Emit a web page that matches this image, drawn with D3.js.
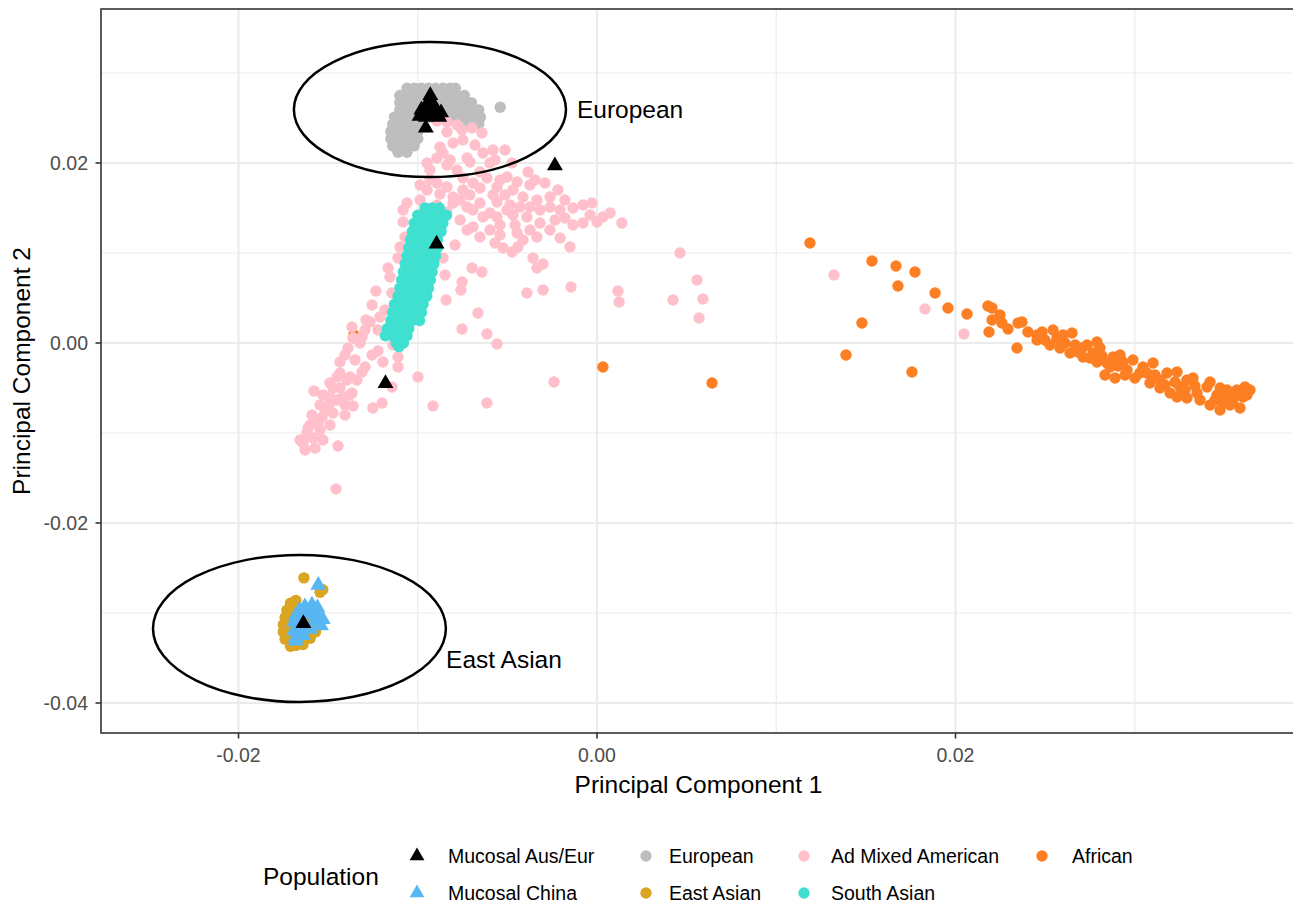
<!DOCTYPE html>
<html>
<head>
<meta charset="utf-8">
<script src="https://cdn.jsdelivr.net/npm/d3@7"></script>
<style>
  body { margin: 0; background: #fff; }
  svg { font-family: "Liberation Sans", Arial, Helvetica, sans-serif; }
</style>
</head>
<body>
<svg width="1293" height="909"></svg>
<script>
// PC1 / PC2 scores, stored in units of 1e-3
var european = [
  [-10.6,28.3],[-10.2,28.3],[-9.8,28.3],[-9.4,28.3],[-9.0,28.3],[-8.6,28.3],[-8.2,28.3],[-7.9,28.3],
  [-11.0,27.5],[-10.6,27.5],[-10.2,27.5],[-9.8,27.5],[-9.4,27.5],[-9.0,27.5],[-8.6,27.5],[-8.2,27.5],[-7.8,27.5],[-7.4,27.5],
  [-11.0,26.7],[-10.6,26.7],[-10.2,26.7],[-9.8,26.7],[-9.4,26.7],[-9.0,26.7],[-8.6,26.7],[-8.2,26.7],[-7.8,26.7],[-7.4,26.7],[-7.0,26.7],
  [-11.0,25.9],[-10.6,25.9],[-10.2,25.9],[-9.8,25.9],[-9.4,25.9],[-9.0,25.9],[-8.6,25.9],[-8.2,25.9],[-7.8,25.9],[-7.4,25.9],[-7.0,25.9],[-6.6,25.9],
  [-11.3,25.1],[-10.9,25.1],[-10.5,25.1],[-10.1,25.1],[-9.7,25.1],[-9.3,25.1],[-8.9,25.1],[-8.5,25.1],[-8.1,25.1],[-7.7,25.1],[-7.3,25.1],[-6.9,25.1],[-6.5,25.1],
  [-11.4,24.3],[-11.0,24.3],[-10.6,24.3],[-10.2,24.3],[-9.9,24.3],[-7.2,24.3],[-6.6,24.3],
  [-11.5,23.5],[-11.1,23.5],[-10.7,23.5],[-10.3,23.5],[-10.0,23.5],
  [-11.5,22.7],[-11.1,22.7],[-10.7,22.7],[-10.3,22.7],[-10.0,22.7],
  [-11.4,21.9],[-11.0,21.9],[-10.6,21.9],[-10.2,21.9],
  [-11.1,21.2],[-10.6,21.2],
  [-5.4,26.2]
];

var admixed = [
  [-8.93,24.67],[-8.37,24.56],[-7.81,24.22],[-6.97,23.89],[-6.42,23.33],[-8.03,22.22],[-7.48,22.56],[-8.76,21.78],
  [-8.59,21.11],[-8.93,20.56],[-9.48,20.0],[-9.32,19.22],[-7.25,20.56],[-6.36,21.11],[-5.80,21.44],[-5.13,21.44],
  [-7.09,20.11],[-5.97,20.0],[-7.81,19.22],[-6.53,19.0],[-5.02,18.44],[-4.46,17.89],[-3.85,19.0],[-8.37,17.33],
  [-8.93,17.78],[-7.48,17.0],[-6.53,17.22],[-5.58,17.33],[-4.69,17.0],[-4.13,16.22],[-9.48,17.0],[-8.76,16.56],
  [-8.03,16.22],[-7.09,16.44],[-6.14,18.33],[-5.41,18.11],[-3.35,15.89],[-2.62,16.22],[-2.18,17.0],[-9.87,15.89],
  [-10.60,15.56],[-10.82,14.78],[-10.82,13.44],[-10.71,11.78],[-10.99,10.67],[-8.03,15.56],[-7.25,15.11],[-6.53,15.56],
  [-5.58,15.67],[-4.85,15.33],[-6.92,14.78],[-5.97,14.44],[-5.02,14.78],[-3.91,14.0],[-2.62,15.11],[-2.06,14.78],
  [-1.34,15.0],[-0.78,15.33],[-0.28,15.56],[-3.18,13.33],[-2.34,13.67],[-1.34,13.11],[-0.78,13.33],[0.0,13.44],
  [0.33,14.0],[1.39,13.33],[-7.64,13.67],[-6.92,12.89],[-6.36,14.0],[-5.58,14.0],[-5.41,13.11],[-4.69,14.22],
  [-6.53,11.78],[-5.41,12.0],[-4.46,12.22],[-4.13,11.44],[-3.35,11.78],[-2.62,12.56],[-5.97,12.56],[-7.25,12.56],
  [-5.24,10.56],[-4.74,10.11],[-4.41,10.67],[-1.51,10.67],[-3.57,9.44],[-3.01,8.78],[-3.35,8.33],[-6.97,8.33],
  [-6.42,7.89],[-7.53,6.78],[-7.59,5.89],[-3.91,5.56],[-3.01,5.89],[-1.45,6.22],[1.17,5.78],[1.23,4.56],
  [4.24,4.78],[4.63,10.0],[5.58,7.0],[5.91,4.89],[5.69,2.78],[-6.64,3.33],[-7.53,1.56],[-6.14,1.0],
  [-5.58,-0.11],[-2.40,-4.33],[-6.14,-6.67],[-9.15,-7.0],[-9.99,-3.78],[-8.59,9.44],[-8.48,7.56],[-8.42,4.78],
  [-11.55,7.33],[-11.66,8.33],[-11.10,9.44],[-12.33,5.78],[-11.44,5.56],[-12.55,4.22],[-12.11,2.89],[-12.66,2.33],
  [-13.67,1.78],[-12.94,1.44],[-12.22,1.44],[-13.61,0.56],[-13.89,-0.56],[-13.11,0.67],[-13.22,0.0],[-12.22,-0.89],
  [-11.10,-1.56],[-11.10,-2.67],[-11.38,-0.22],[-14.34,-2.11],[-13.50,-1.89],[-12.94,-2.67],[-14.34,-3.33],[-13.78,-3.78],
  [-13.11,-3.22],[-14.50,-3.78],[-13.95,-4.11],[-13.39,-4.11],[-15.79,-5.33],[-14.34,-5.0],[-13.67,-5.56],[-14.90,-6.0],
  [-14.17,-6.0],[-14.73,-5.0],[-15.17,-7.44],[-14.73,-7.78],[-13.61,-7.0],[-15.34,-8.22],[-15.56,-8.89],[-14.50,-6.33],
  [-14.90,-6.67],[-16.18,-10.0],[-15.84,-10.56],[-16.40,-11.11],[-15.73,-11.67],[-15.29,-10.78],[-14.45,-11.44],[-16.12,-9.44],
  [-14.56,-16.22],[-12.50,-7.22],[-11.99,-6.67],[-11.44,-4.89],[13.22,7.56],[18.30,3.78],[20.47,1.0],
  [-8.37,19.78],[-7.48,18.33],[-6.92,17.78],[-5.80,16.44],[-5.13,16.44],[-4.30,15.11],[-8.93,15.33],[-8.37,14.56],
  [-3.74,17.56],[-3.18,14.78],[-1.79,15.89],[-14.06,-1.33],[-14.90,-4.44],[-15.29,-5.78],[-14.06,-6.89],[-15.90,-8.0],
  [-16.57,-10.78],[-15.45,-9.67],[-14.90,-9.11],
  [-8.20,20.33],[-6.81,22.0],[-5.69,20.33],[-4.74,20.0],[-3.46,18.11],[-2.90,17.78],[-3.74,15.11],[-1.79,13.89],
  [-0.39,14.22],[0.73,14.44],[-4.57,13.11],[-3.74,12.56],[-2.06,11.67],[-7.92,10.89],[-5.69,11.11],[-9.32,18.11],
  [-9.87,17.56],[-7.64,15.89],[-8.37,23.44],[-7.53,23.67],[-12.55,-1.33],[-11.94,-2.11],[-13.78,-5.78],[-15.45,-6.89],
  [-14.06,-8.0],[-16.01,-9.11],[-16.29,-11.89],[-12.89,2.56],[-11.83,3.67]
];

var african = [
  [11.88,11.11],[15.34,9.11],[16.68,8.56],[17.74,7.89],[16.79,6.33],[18.86,5.56],[19.58,3.89],[20.64,3.22],
  [14.78,2.22],[13.89,-1.33],[17.57,-3.22],[0.33,-2.67],[6.42,-4.44],[-13.56,0.9],
  [21.81,4.11],[22.04,3.89],[22.04,2.56],[22.48,3.11],[22.59,2.22],[21.87,1.22],[22.93,1.56],[23.49,2.22],
  [23.71,2.33],[23.43,-0.56],[24.04,1.22],[24.55,0.89],[24.83,1.22],[24.55,0.33],[25.44,1.44],[25.66,0.56],
  [26.0,0.89],[26.5,1.11],[25.83,-0.56],[26.39,-1.11],[26.67,-0.22],[27.06,-0.56],[27.34,-0.22],[27.89,0.11],
  [27.11,-1.56],[27.67,-1.11],[28.06,-0.56],[27.89,-2.11],[28.45,-2.22],[28.79,-1.56],[29.18,-1.33],[28.34,-3.56],
  [28.90,-3.89],[28.62,-2.67],[29.34,-2.11],[29.90,-1.89],[29.57,-3.0],[30.01,-3.89],[30.46,-2.67],[31.02,-2.22],
  [30.68,-3.33],[30.85,-4.44],[31.41,-4.11],[31.80,-3.33],[32.36,-3.22],[31.41,-5.0],[31.97,-5.56],[32.52,-4.89],
  [32.91,-4.11],[33.25,-3.89],[32.36,-6.0],[32.91,-6.11],[33.47,-5.56],[34.03,-4.89],[34.20,-4.33],[34.20,-6.89],
  [34.76,-7.44],[34.92,-6.56],[34.59,-5.78],[35.15,-5.22],[35.48,-6.33],[35.87,-7.22],[36.04,-6.0],[36.15,-4.89],
  [35.70,-5.22],[35.31,-6.89],[36.26,-5.78],
  [24.99,0.33],[25.27,-0.22],[26.11,0.0],[26.83,-1.0],[27.5,-1.67],[28.17,-1.44],[29.07,-2.56],[29.46,-3.56],
  [30.29,-3.33],[31.13,-3.56],[31.69,-4.67],[32.25,-4.33],[32.80,-5.22],[33.36,-4.78],[33.64,-6.33],[34.48,-6.33],
  [35.03,-6.0],[35.59,-5.89],[36.43,-5.22],[34.76,-5.0]
];

var eastAsian = [
  [-16.35,-26.1],[-15.45,-27.7],[-15.3,-27.4],
  [-17.1,-28.9],[-16.8,-28.6],
  [-17.3,-29.7],[-16.9,-29.6],[-16.5,-29.8],
  [-17.4,-30.5],[-17.1,-30.4],[-16.7,-30.6],[-16.3,-30.3],[-15.9,-30.5],
  [-17.5,-31.3],[-17.2,-31.2],[-16.8,-31.4],[-16.4,-31.1],[-16.0,-31.3],[-15.6,-31.4],
  [-17.5,-32.1],[-17.2,-32.0],[-16.9,-32.2],[-16.5,-32.0],[-16.1,-32.2],[-15.7,-32.1],
  [-17.4,-32.9],[-17.1,-33.0],[-16.8,-32.8],[-16.4,-33.0],[-16.0,-32.8],
  [-17.1,-33.7],[-16.8,-33.6],[-16.4,-33.5]
];

var southAsian = [
  [-9.6,15.0],[-9.2,15.0],[-8.8,15.0],
  [-10.0,14.2],[-9.6,14.2],[-9.2,14.2],[-8.8,14.2],[-8.4,14.2],
  [-10.2,13.3],[-9.8,13.3],[-9.4,13.3],[-9.0,13.3],[-8.6,13.3],
  [-10.3,12.4],[-9.9,12.4],[-9.5,12.4],[-9.1,12.4],[-8.7,12.4],
  [-10.4,11.5],[-10.0,11.5],[-9.6,11.5],[-9.2,11.5],[-8.9,11.5],
  [-10.5,10.6],[-10.1,10.6],[-9.7,10.6],[-9.3,10.6],[-8.9,10.6],
  [-10.6,9.7],[-10.2,9.7],[-9.8,9.7],[-9.4,9.7],[-9.0,9.7],
  [-10.7,8.8],[-10.3,8.8],[-9.9,8.8],[-9.5,8.8],[-9.1,8.8],
  [-10.8,7.9],[-10.4,7.9],[-10.0,7.9],[-9.6,7.9],[-9.2,7.9],
  [-10.9,7.0],[-10.5,7.0],[-10.1,7.0],[-9.7,7.0],[-9.3,7.0],
  [-11.0,6.1],[-10.6,6.1],[-10.2,6.1],[-9.8,6.1],[-9.4,6.1],
  [-11.1,5.2],[-10.7,5.2],[-10.3,5.2],[-9.9,5.2],[-9.5,5.2],
  [-11.3,4.3],[-10.9,4.3],[-10.5,4.3],[-10.1,4.3],[-9.7,4.3],
  [-11.4,3.4],[-11.0,3.4],[-10.6,3.4],[-10.2,3.4],[-9.8,3.4],
  [-11.5,2.5],[-11.1,2.5],[-10.7,2.5],[-10.3,2.5],[-9.9,2.5],
  [-11.7,1.6],[-11.3,1.6],[-10.9,1.6],[-10.5,1.6],
  [-11.8,0.8],[-11.4,0.8],[-11.0,0.8],[-10.6,0.8],
  [-11.2,0.0],[-10.8,0.0],[-11.05,-0.4]
];

var mucosalChina = [
  [-15.55,-26.9],
  [-16.3,-29.3],[-15.9,-29.1],[-15.6,-29.4],[-16.6,-29.7],
  [-16.8,-30.3],[-16.4,-30.2],[-16.0,-30.1],[-15.6,-30.3],[-15.3,-30.7],
  [-16.9,-31.0],[-16.5,-31.3],[-15.8,-31.0],[-15.4,-31.4],
  [-16.9,-32.0],[-16.5,-31.9],[-16.0,-31.8],
  [-16.8,-32.7],[-16.4,-32.5],[-16.8,-33.1]
];

var mucosalAusEur = [
  [-9.3,27.5],[-9.45,26.7],[-9.15,26.6],[-9.8,25.9],[-9.4,25.8],[-9.0,25.9],[-8.7,25.6],
  [-9.9,25.2],[-9.55,25.1],[-9.15,25.2],[-8.8,25.1],[-9.55,23.9],
  [-2.35,19.7],[-8.95,11.0],[-11.8,-4.5],[-16.38,-31.15]
];

// ellipses and their labels: centre, radii (1e-3) and label anchor
var ellipses = [
  {label: "European", cx: -9.32, cy: 25.94, rx: 7.59, ry: 7.5, lx: -1.12, ly: 25.9},
  {label: "East Asian", cx: -16.6, cy: -31.72, rx: 8.17, ry: 8.17, lx: -8.42, ly: -35.2}
];

var xMajor = [-0.02, 0, 0.02], xMinor = [-0.01, 0.01, 0.03];
var yMajor = [-0.04, -0.02, 0, 0.02], yMinor = [-0.03, -0.01, 0.01, 0.03];

// draw order and legend layout
var groups = [
  {name: "African", data: african, color: "#FD7F23", shape: "circle", col: 3, row: 0},
  {name: "European", data: european, color: "#BEBEBE", shape: "circle", col: 1, row: 0},
  {name: "Ad Mixed American", data: admixed, color: "#FFC0CB", shape: "circle", col: 2, row: 0},
  {name: "East Asian", data: eastAsian, color: "#DAA520", shape: "circle", col: 1, row: 1},
  {name: "South Asian", data: southAsian, color: "#40E0D0", shape: "circle", col: 2, row: 1},
  {name: "Mucosal China", data: mucosalChina, color: "#58B6F2", shape: "triangle", col: 0, row: 1},
  {name: "Mucosal Aus/Eur", data: mucosalAusEur, color: "#000000", shape: "triangle", col: 0, row: 0}
];

var k = 1e-3;
var svg = d3.select("svg");

var pLeft = 101, pRight = 1296, pTop = 9, pBottom = 733;
var x = d3.scaleLinear().domain([-0.027671, 0.038996]).range([pLeft, pRight]);
var y = d3.scaleLinear().domain([-0.043333, 0.037111]).range([pBottom, pTop]);

svg.append("defs").append("clipPath").attr("id", "panel")
  .append("rect").attr("x", pLeft).attr("y", pTop)
  .attr("width", pRight - pLeft).attr("height", pBottom - pTop);

// grid
var grid = svg.append("g").attr("clip-path", "url(#panel)");
grid.append("g").selectAll("line").data(xMinor).join("line")
  .attr("x1", d => x(d)).attr("x2", d => x(d)).attr("y1", pTop).attr("y2", pBottom)
  .attr("stroke", "#EBEBEB").attr("stroke-width", 1.2);
grid.append("g").selectAll("line").data(yMinor).join("line")
  .attr("y1", d => y(d)).attr("y2", d => y(d)).attr("x1", pLeft).attr("x2", pRight)
  .attr("stroke", "#EBEBEB").attr("stroke-width", 1.2);
grid.append("g").selectAll("line").data(xMajor).join("line")
  .attr("x1", d => x(d)).attr("x2", d => x(d)).attr("y1", pTop).attr("y2", pBottom)
  .attr("stroke", "#EBEBEB").attr("stroke-width", 2.2);
grid.append("g").selectAll("line").data(yMajor).join("line")
  .attr("y1", d => y(d)).attr("y2", d => y(d)).attr("x1", pLeft).attr("x2", pRight)
  .attr("stroke", "#EBEBEB").attr("stroke-width", 2.2);

// points
var tri = d3.symbol().type(d3.symbolTriangle).size(110);
var plot = svg.append("g").attr("clip-path", "url(#panel)");
groups.forEach(function(g) {
  if (g.shape == "circle") {
    plot.append("g").selectAll("circle").data(g.data).join("circle")
      .attr("cx", d => x(d[0] * k)).attr("cy", d => y(d[1] * k))
      .attr("r", 5.7).attr("fill", g.color);
  } else {
    plot.append("g").selectAll("path").data(g.data).join("path")
      .attr("d", tri)
      .attr("transform", d => `translate(${x(d[0] * k)},${y(d[1] * k)})`)
      .attr("fill", g.color);
  }
});

// ellipses + labels
plot.append("g").selectAll("ellipse").data(ellipses).join("ellipse")
  .attr("cx", d => x(d.cx * k)).attr("cy", d => y(d.cy * k))
  .attr("rx", d => x((d.cx + d.rx) * k) - x(d.cx * k))
  .attr("ry", d => y(d.cy * k) - y((d.cy + d.ry) * k))
  .attr("fill", "none").attr("stroke", "#000").attr("stroke-width", 2.5);
svg.append("g").selectAll("text").data(ellipses).join("text")
  .attr("x", d => x(d.lx * k)).attr("y", d => y(d.ly * k))
  .attr("dy", "0.35em").attr("font-size", "24.5px").attr("fill", "#000")
  .text(d => d.label);

// panel border
svg.append("rect").attr("x", pLeft).attr("y", pTop)
  .attr("width", pRight - pLeft).attr("height", pBottom - pTop)
  .attr("fill", "none").attr("stroke", "#333333").attr("stroke-width", 1.6);

// axes
var fmt = d => d.toFixed(2);
svg.append("g").selectAll("line").data(xMajor).join("line")
  .attr("x1", d => x(d)).attr("x2", d => x(d)).attr("y1", pBottom).attr("y2", pBottom + 5.5)
  .attr("stroke", "#333333").attr("stroke-width", 1.6);
svg.append("g").selectAll("text").data(xMajor).join("text")
  .attr("x", d => x(d)).attr("y", 762)
  .attr("text-anchor", "middle").attr("font-size", "19.5px").attr("fill", "#4D4D4D")
  .text(fmt);
svg.append("g").selectAll("line").data(yMajor).join("line")
  .attr("y1", d => y(d)).attr("y2", d => y(d)).attr("x1", pLeft - 5.5).attr("x2", pLeft)
  .attr("stroke", "#333333").attr("stroke-width", 1.6);
svg.append("g").selectAll("text").data(yMajor).join("text")
  .attr("x", 88).attr("y", d => y(d)).attr("dy", "0.35em")
  .attr("text-anchor", "end").attr("font-size", "19.5px").attr("fill", "#4D4D4D")
  .text(fmt);

svg.append("text").attr("x", (pLeft + pRight) / 2).attr("y", 793)
  .attr("text-anchor", "middle").attr("font-size", "24.5px")
  .text("Principal Component 1");
svg.append("text").attr("transform", `translate(30,${(pTop + pBottom) / 2}) rotate(-90)`)
  .attr("text-anchor", "middle").attr("font-size", "24.5px")
  .text("Principal Component 2");

// legend
var keyX = [417, 646, 804, 1042], labX = [448, 669, 831, 1072], rowY = [856, 893];
var legend = svg.append("g");
legend.append("text").attr("x", 263).attr("y", 876).attr("dy", "0.35em")
  .attr("font-size", "24.5px").text("Population");
var key = legend.append("g").selectAll("g").data(groups).join("g")
  .attr("transform", d => `translate(${keyX[d.col]},${rowY[d.row]})`);
key.filter(d => d.shape == "circle").append("circle")
  .attr("r", 5.7).attr("fill", d => d.color);
key.filter(d => d.shape == "triangle").append("path")
  .attr("d", d3.symbol().type(d3.symbolTriangle).size(95))
  .attr("fill", d => d.color);
legend.append("g").selectAll("text").data(groups).join("text")
  .attr("x", d => labX[d.col]).attr("y", d => rowY[d.row]).attr("dy", "0.35em")
  .attr("font-size", "19.5px").attr("fill", "#000")
  .text(d => d.name);
</script>
</body>
</html>
